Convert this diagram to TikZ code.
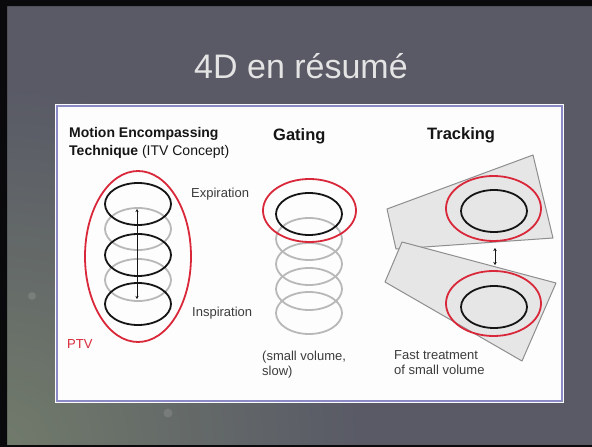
\documentclass[tikz,border=0pt]{standalone}
\usepackage{fontspec}
\setmainfont{Liberation Sans}
\usetikzlibrary{arrows.meta,positioning,shapes.geometric}
\definecolor{frame}{HTML}{0A0A0C}
\definecolor{slate}{HTML}{595A66}
\definecolor{moss}{HTML}{717B6B}
\definecolor{lavender}{HTML}{8C8AC4}
\definecolor{sheet}{HTML}{FDFDFD}
\definecolor{ink}{HTML}{151515}
\definecolor{inkdim}{HTML}{3C3C3C}
\definecolor{ptvred}{HTML}{D9283A}
\definecolor{ghost}{HTML}{B8B8B8}
\definecolor{beam}{HTML}{E6E6E6}
\definecolor{beamedge}{HTML}{8E8E8E}
\definecolor{titlecol}{HTML}{E4E4E4}

\begin{document}
\begin{tikzpicture}[x=1pt,y=-1pt]
  \tikzstyle{ring}=[ellipse,draw=ink,line width=1.8pt,minimum width=66pt,minimum height=42pt,inner sep=0pt]
  \tikzstyle{ghostring}=[ring,draw=ghost]
  \tikzstyle{ptv}=[ellipse,draw=ptvred,line width=1.8pt,inner sep=0pt]
  \tikzstyle{hd}=[font=\fontsize{16.5}{19}\selectfont\bfseries,text=ink,anchor=base west,inner sep=0pt]
  \tikzstyle{hdsm}=[font=\fontsize{14}{16}\selectfont\bfseries,text=ink,anchor=base west,inner sep=0pt]
  \tikzstyle{lbl}=[font=\fontsize{13}{15}\selectfont,text=inkdim,anchor=base west,inner sep=0pt]
  \tikzstyle{beamshape}=[fill=beam,draw=beamedge,line width=1pt,line join=round]
  \useasboundingbox (0,0) rectangle (592,447);
  % slide background
  \fill[slate] (0,0) rectangle (592,447);
  \shade[inner color=moss,outer color=slate] (0,447) circle (360pt);
  \fill[frame,even odd rule] (-5,-5) rectangle (597,452) (7,6) rectangle (592,445);
  \fill[white,opacity=.12] (32,296) circle (4pt);
  \fill[white,opacity=.12] (168,413) circle (4.5pt);
  \node[font=\fontsize{34}{40}\selectfont,text=titlecol] (title) at (301,66) {4D en résumé};
  % white sheet
  \fill[sheet] (55,104) rectangle (564,403);
  \draw[lavender,line width=1.6pt] (57,106) rectangle (562,401);

  % ITV column
  \node[hdsm] (mot1) at (69,137) {Motion Encompassing};
  \node[hdsm] (mot2) at ([yshift=-18pt]mot1.base west) {Technique \mdseries(ITV Concept)};
  \foreach \y/\n in {229/1,280/2}
    \node[ghostring] (itvg\n) at (138,\y) {};
  \foreach \y/\n in {204/1,255/2,304/3}
    \node[ring] (itvb\n) at (138,\y) {};
  \coordinate (exptop) at (137,209);
  \coordinate (inspbot) at (137,299);
  \draw[{Stealth[length=3pt,width=3pt]}-{Stealth[length=3pt,width=3pt]},ink,line width=.8pt] (exptop) -- (inspbot);
  \node[ptv,minimum width=106pt,minimum height=171pt] (itvptv) at (138,256.5) {};
  \node[lbl] (expir) at (191,197.5) {Expiration};
  \node[lbl] (inspir) at (192,316.5) {Inspiration};
  \node[lbl,text=ptvred] (ptvlbl) at (67,348) {PTV};

  % Gating column
  \node[hd] (gating) at (273,140) {Gating};
  \foreach \y/\n in {239/1,264/2,289/3,313/4}
    \node[ghostring] (gatg\n) at (309,\y) {};
  \node[ring] (gatb) at (309,214) {};
  \node[ptv,minimum width=93pt,minimum height=63pt] (gatptv) at (309.5,210.5) {};
  \node[lbl] (sv1) at (262,360.5) {(small volume,};
  \node[lbl] (sv2) at ([yshift=-14.5pt]sv1.base west) {slow)};

  % Tracking column
  \node[hd] (tracking) at (427,139.5) {Tracking};
  \draw[beamshape] (387,209) -- (533,155) -- (553,238) -- (396,249) -- cycle;
  \draw[beamshape] (402,242) -- (556,283) -- (522,361) -- (385,282) -- cycle;
  \node[ptv,minimum width=95pt,minimum height=65pt] (trkptv1) at (493.5,208.5) {};
  \node[ring] (trkb1) at (494,211) {};
  \node[ptv,minimum width=95pt,minimum height=65pt] (trkptv2) at (493.5,303.5) {};
  \node[ring] (trkb2) at (494,307) {};
  \coordinate (shifttop) at (495,248);
  \coordinate (shiftbot) at (495,265);
  \draw[{Stealth[length=3pt,width=3.5pt]}-{Stealth[length=3pt,width=3.5pt]},ink,line width=.9pt] (shifttop) -- (shiftbot);
  \node[lbl] (fast1) at (394,359.5) {Fast treatment};
  \node[lbl] (fast2) at ([yshift=-14.5pt]fast1.base west) {of small volume};
\end{tikzpicture}
\end{document}
